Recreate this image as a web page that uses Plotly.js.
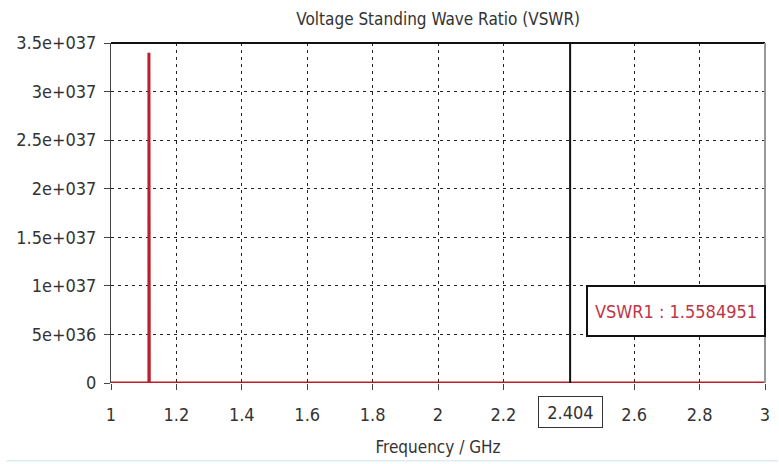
<!DOCTYPE html>
<html><head><meta charset="utf-8">
<script src="https://cdn.plot.ly/plotly-3.0.1.min.js"></script>
<style>html,body{margin:0;padding:0;background:#fff}#c{width:779px;height:464px}</style>
</head><body><div id="c"></div>
<script>
// Data
const freq = [1, 1.116, 1.116, 1.117, 3];
const vswr = [0, 0, 3.4e37, 0, 0];
const markerFreq = 2.404;
const markerLabel = "VSWR1 : 1.5584951";
const xTickVals = [1, 1.2, 1.4, 1.6, 1.8, 2, 2.2, 2.6, 2.8, 3];
const xTickText = ["1", "1.2", "1.4", "1.6", "1.8", "2", "2.2", "2.6", "2.8", "3"];
const yTickVals = [0, 5e36, 1e37, 1.5e37, 2e37, 2.5e37, 3e37, 3.5e37];
const yTickText = ["0", "5e+036", "1e+037", "1.5e+037", "2e+037", "2.5e+037", "3e+037", "3.5e+037"];

const F = "DejaVu Sans Condensed, Liberation Sans Narrow, sans-serif";
const txt = "#333";

const trace = {
  x: freq, y: vswr, type: "scatter", mode: "lines",
  line: {color: "#bb1e2c", width: 3}, hoverinfo: "skip", showlegend: false
};

const layout = {
  width: 779, height: 464,
  margin: {l: 111, r: 14, t: 43, b: 81},
  paper_bgcolor: "#fff", plot_bgcolor: "#fff",
  title: {text: "Voltage Standing Wave Ratio (VSWR)", x: 0.5625, xanchor: "center", y: 0.96, yanchor: "middle",
          font: {family: F, size: 17, color: txt}},
  xaxis: {
    range: [1, 3], tickvals: xTickVals, ticktext: xTickText,
    ticks: "outside", ticklen: 6, tickcolor: "#444", ticklabelstandoff: 9,
    showgrid: true, gridcolor: "#222", griddash: "3px,4px", gridwidth: 1,
    showline: false, zeroline: false,
    tickfont: {family: F, size: 18, color: txt},
    title: {text: "Frequency / GHz", font: {family: F, size: 17, color: txt}, standoff: 17}
  },
  yaxis: {
    range: [0, 3.5e37], tickvals: yTickVals, ticktext: yTickText,
    ticks: "outside", ticklen: 6, tickcolor: "#444", ticklabelstandoff: 4,
    showgrid: true, gridcolor: "#222", griddash: "3px,4px", gridwidth: 1,
    showline: true, linecolor: "#444", linewidth: 1, zeroline: false,
    tickfont: {family: F, size: 18, color: txt}
  },
  shapes: [
    {type: "line", xref: "paper", yref: "paper", x0: 0, x1: 1, y0: 1, y1: 1, line: {color: "#111", width: 2}},
    {type: "line", xref: "paper", yref: "paper", x0: 1, x1: 1, y0: 0, y1: 1, line: {color: "#999", width: 2}},
    {type: "line", xref: "x", yref: "paper", x0: markerFreq, x1: markerFreq, y0: 0, y1: 1, line: {color: "#111", width: 2}},
    {type: "line", xref: "paper", yref: "paper", x0: -0.16, x1: 1.02, y0: -0.229, y1: -0.229, line: {color: "#cfe3ee", width: 1}}
  ],
  annotations: [
    {x: markerFreq, y: 0, xref: "x", yref: "paper", yshift: -13, yanchor: "top", text: String(markerFreq), showarrow: false,
     width: 61, height: 28, font: {family: F, size: 18, color: txt}, bordercolor: "#333", borderwidth: 1, borderpad: 1, bgcolor: "#fff"},
    {x: 0.864, y: 0.213, xref: "paper", yref: "paper", xanchor: "center", yanchor: "middle", text: markerLabel, showarrow: false,
     width: 174, height: 46, font: {family: F, size: 18, color: "#c03545"}, bordercolor: "#111", borderwidth: 2, borderpad: 1, bgcolor: "#fff"}
  ]
};

Plotly.newPlot("c", [trace], layout, {displayModeBar: false, staticPlot: true});
</script>
</body></html>
